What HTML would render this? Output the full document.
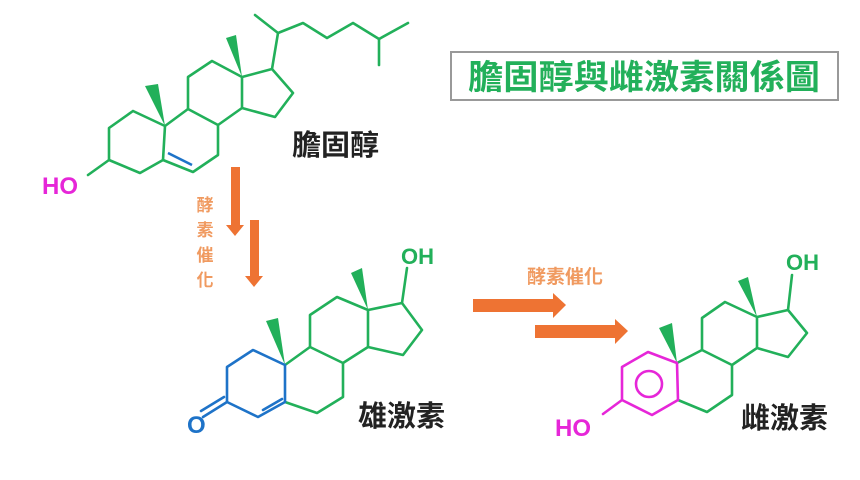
<!DOCTYPE html>
<html><head><meta charset="utf-8"><style>
html,body{margin:0;padding:0;background:#fff;width:860px;height:480px;overflow:hidden}
svg{display:block}
</style></head><body>
<svg width="860" height="480" viewBox="0 0 860 480" xmlns="http://www.w3.org/2000/svg">
<g fill="none" stroke="#22b05a" stroke-width="2.6" stroke-linejoin="round" stroke-linecap="round">
<!-- Cholesterol -->
<polygon points="133,111 109,128 109,160 140,173 163,160 165,126"/>
<polyline points="165,126 188,109 218,125 218,155 193,172 163,160"/>
<polyline points="188,109 188,77 212,61 242,77 242,108 218,125"/>
<polyline points="242,77 272,69 293,93 275,117 242,108"/>
<polyline points="272,69 278,33 255,15"/>
<polyline points="278,33 303,23 327,38 353,23 379,39 408,23"/>
<line x1="379" y1="39" x2="379" y2="65"/>
<line x1="109" y1="160" x2="88" y2="175"/>
<!-- Testosterone green -->
<polyline points="285,365 310,347 343,363 343,397 317,413 285,402"/>
<polyline points="310,347 310,315 337,297 368,310 368,347 343,363"/>
<polyline points="368,310 402,303 422,330 403,355 368,347"/>
<line x1="402" y1="303" x2="407" y2="268"/>
<!-- Estradiol green -->
<polyline points="677,363 702,350 732,365 732,395 707,412 678,400"/>
<polyline points="702,350 702,318 725,302 757,317 757,348 732,365"/>
<polyline points="757,317 788,310 807,333 788,357 757,348"/>
<line x1="788" y1="310" x2="792" y2="275"/>
</g>
<line x1="168" y1="153" x2="192" y2="165" stroke="#1e73c8" stroke-width="2.6"/>
<!-- wedges -->
<g fill="#22b05a">
<polygon points="165,126 145,86 158,84"/>
<polygon points="242,77 226,38 236,35"/>
<polygon points="285,365 266,321 278,318"/>
<polygon points="368,310 351,273 362,268"/>
<polygon points="677,363 659,328 672,323"/>
<polygon points="757,317 738,281 748,277"/>
</g>
<!-- Testosterone A ring blue -->
<g fill="none" stroke="#1e73c8" stroke-width="2.6" stroke-linejoin="round" stroke-linecap="round">
<polyline points="285,365 253,350 227,367 227,402 258,417 285,402 285,365"/>
<line x1="263" y1="410" x2="282" y2="399"/>
<line x1="227" y1="402" x2="203" y2="417"/>
<line x1="224" y1="397" x2="201" y2="411"/>
</g>
<!-- Estradiol A ring magenta -->
<g fill="none" stroke="#e626d8" stroke-width="2.6" stroke-linejoin="round" stroke-linecap="round">
<polygon points="677,363 648,352 622,367 622,400 652,415 678,400"/>
<circle cx="649" cy="384" r="13"/>
<line x1="622" y1="400" x2="603" y2="414"/>
</g>
<!-- arrows -->
<g fill="#ee7333">
<rect x="231" y="167" width="9" height="58"/><polygon points="226,225 244,225 235,236"/>
<rect x="250" y="220" width="9" height="56"/><polygon points="245,276 263,276 254,287"/>
<rect x="473" y="299" width="80" height="13"/><polygon points="553,293 553,318 566,305"/>
<rect x="535" y="325" width="80" height="13"/><polygon points="615,319 615,344 628,331"/>
</g>
<!-- text -->
<g font-family="Liberation Sans, Noto Sans CJK TC, sans-serif" font-weight="bold">
<text x="42" y="194" font-size="24" fill="#e626d8">HO</text>
<text x="187" y="433" font-size="24" fill="#1e73c8">O</text>
<text x="401" y="264" font-size="22" fill="#22b05a">OH</text>
<text x="786" y="270" font-size="22" fill="#22b05a">OH</text>
<text x="555" y="436" font-size="24" fill="#e626d8">HO</text>
</g>
<g font-family="Liberation Sans, Noto Sans CJK TC, sans-serif" font-weight="bold" fill="#222">
<text x="292" y="155" font-size="29">膽固醇</text>
<text x="358" y="426" font-size="29">雄激素</text>
<text x="741" y="428" font-size="29">雌激素</text>
</g>
<g font-family="Liberation Sans, Noto Sans CJK TC, sans-serif" font-weight="bold" fill="#f09a60" font-size="17" text-anchor="middle">
<text x="205" y="211">酵</text>
<text x="205" y="236">素</text>
<text x="205" y="261">催</text>
<text x="205" y="286">化</text>
<text x="565" y="283" font-size="19">酵素催化</text>
</g>
<rect x="451" y="52" width="387" height="48" fill="none" stroke="#999" stroke-width="2"/>
<text x="644" y="89" text-anchor="middle" font-family="Liberation Sans, Noto Sans CJK TC, sans-serif" font-weight="bold" font-size="34" fill="#22b05a" textLength="352" lengthAdjust="spacingAndGlyphs">膽固醇與雌激素關係圖</text>
</svg>
</body></html>
